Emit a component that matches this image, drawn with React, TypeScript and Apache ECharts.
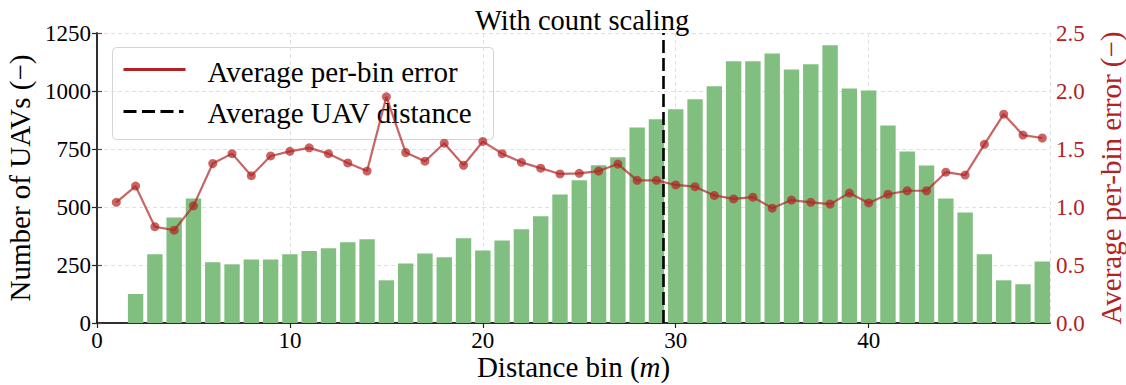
import React, { useEffect, useRef } from "react";
import * as echarts from "echarts";

const bins = [
  1, 2, 3, 4, 5, 6, 7, 8, 9, 10,
  11, 12, 13, 14, 15, 16, 17, 18, 19, 20,
  21, 22, 23, 24, 25, 26, 27, 28, 29, 30,
  31, 32, 33, 34, 35, 36, 37, 38, 39, 40,
  41, 42, 43, 44, 45, 46, 47, 48, 49,
];

const uavCounts = [
  0, 125, 296, 455, 537, 262, 253, 274, 274, 296,
  310, 322, 348, 361, 184, 257, 300, 283, 365, 313,
  356, 404, 460, 554, 615, 680, 714, 843, 878, 921,
  964, 1020, 1128, 1128, 1162, 1093, 1115, 1197, 1011, 1002,
  851, 739, 679, 537, 476, 296, 184, 167, 265,
];

const binErrors = [
  1.04, 1.18, 0.83, 0.8, 1.01, 1.375, 1.46, 1.27, 1.44, 1.48,
  1.51, 1.46, 1.38, 1.31, 1.95, 1.47, 1.395, 1.55, 1.36, 1.565,
  1.46, 1.385, 1.335, 1.285, 1.29, 1.31, 1.37, 1.23, 1.23, 1.19,
  1.175, 1.1, 1.07, 1.085, 0.99, 1.06, 1.04, 1.025, 1.12, 1.035,
  1.11, 1.14, 1.14, 1.3, 1.275, 1.54, 1.8, 1.62, 1.595,
];

const avgDistance = 29.37;
const xTicksMax = 49.4;
const leftTicks = [0, 250, 500, 750, 1000, 1250];
const rightTicks = [0, 0.5, 1.0, 1.5, 2.0, 2.5];

const FONT = "Liberation Serif";
const RED = "#b22222";
const SPINE = { show: true, lineStyle: { color: "#222", width: 1.5 } };

export default function App() {
  const ref = useRef<HTMLDivElement>(null);

  useEffect(() => {
    document.body.style.margin = "0";
    if (!ref.current) return;
    const chart = echarts.init(ref.current, undefined, { renderer: "svg" });

    const barData = bins.map((b, i) => [b, uavCounts[i]]).filter((d) => d[1] > 0);
    const lineData = bins.map((b, i) => [b, binErrors[i]]);

    const gridLine = {
      show: true,
      lineStyle: { color: "#dcdcdc", type: [4, 3] as any, width: 0.9 },
    };

    chart.setOption({
      animation: false,
      backgroundColor: "#ffffff",
      textStyle: { fontFamily: FONT },
      title: {
        text: "With count scaling",
        left: 470,
        top: 1,
        textStyle: { fontFamily: FONT, fontSize: 28.5, fontWeight: "normal", color: "#000" },
      },
      grid: {
        left: 97,
        right: 76,
        top: 33,
        bottom: 62,
        show: false,
        containLabel: false,
        outerBoundsMode: "none",
      },
      xAxis: [
        {
          type: "value",
          min: 0,
          max: xTicksMax,
          interval: 10,
          position: "bottom",
          axisLine: SPINE,
          axisTick: { show: true, length: 5, lineStyle: { color: "#222", width: 1.2 } },
          axisLabel: {
            fontFamily: FONT,
            fontSize: 23,
            lineHeight: 20,
            color: "#000",
            margin: 7,
            showMaxLabel: false,
            formatter: (v: number) => (v % 10 === 0 ? String(v) : ""),
          },
          splitLine: gridLine,
        },
        {
          type: "value",
          min: 0,
          max: xTicksMax,
          position: "top",
          axisLine: SPINE,
          axisTick: { show: false },
          axisLabel: { show: false },
          splitLine: { show: false },
        },
      ],
      yAxis: [
        {
          type: "value",
          min: leftTicks[0],
          max: leftTicks[leftTicks.length - 1],
          interval: 250,
          position: "left",
          name: "Number of UAVs (−)",
          nameLocation: "middle",
          nameGap: 62,
          nameTextStyle: { fontFamily: FONT, fontSize: 29, color: "#000" },
          axisLine: SPINE,
          axisTick: { show: true, length: 5, lineStyle: { color: "#222", width: 1.2 } },
          axisLabel: {
            fontFamily: FONT,
            fontSize: 23,
            color: "#000",
            margin: 6,
            formatter: (v: number) => String(v),
          },
          splitLine: gridLine,
        },
        {
          type: "value",
          min: rightTicks[0],
          max: rightTicks[rightTicks.length - 1],
          interval: 0.5,
          position: "right",
          name: "Average per-bin error (−)",
          nameLocation: "middle",
          nameGap: 46,
          nameRotate: 90,
          nameTextStyle: { fontFamily: FONT, fontSize: 29, color: RED },
          axisLine: SPINE,
          axisTick: { show: true, length: 5, lineStyle: { color: RED, width: 1.2 } },
          axisLabel: {
            fontFamily: FONT,
            fontSize: 23,
            color: RED,
            margin: 6,
            formatter: (v: number) => v.toFixed(1),
          },
          splitLine: { show: false },
        },
      ],
      series: [
        {
          type: "bar",
          name: "Number of UAVs",
          data: barData,
          barWidth: 15.4,
          itemStyle: { color: "#80bf80" },
          xAxisIndex: 0,
          yAxisIndex: 0,
          z: 2,
          markLine: {
            silent: true,
            symbol: "none",
            label: { show: false },
            lineStyle: { color: "#000", type: [13, 5] as any, width: 2.6 },
            data: [{ xAxis: avgDistance }],
            z: 5,
          },
        },
        {
          type: "line",
          name: "Average per-bin error",
          data: lineData,
          xAxisIndex: 0,
          yAxisIndex: 1,
          symbol: "circle",
          symbolSize: 9,
          itemStyle: { color: "rgba(178,34,34,0.7)" },
          lineStyle: { color: "rgba(178,34,34,0.7)", width: 2.2 },
          z: 4,
        },
      ],
      graphic: [
        {
          type: "text",
          x: 573.5,
          y: 367,
          z: 100,
          style: {
            text: "Distance bin ({i|m})",
            fontFamily: FONT,
            fontSize: 29,
            lineHeight: 28,
            fill: "#000",
            align: "center",
            verticalAlign: "middle",
            rich: {
              i: { fontFamily: FONT, fontSize: 29, lineHeight: 28, fontStyle: "italic", fill: "#000" },
            },
          },
        },
        {
          type: "group",
          left: 112,
          top: 47,
          z: 100,
          children: [
            {
              type: "rect",
              shape: { x: 0, y: 0, width: 381, height: 92, r: 4 },
              style: { fill: "rgba(255,255,255,0.8)", stroke: "#d4d4d4", lineWidth: 1 },
            },
            {
              type: "line",
              shape: { x1: 11, y1: 22, x2: 73, y2: 22 },
              style: { stroke: RED, lineWidth: 3 },
            },
            {
              type: "line",
              shape: { x1: 11, y1: 64, x2: 71, y2: 64 },
              style: { stroke: "#000", lineWidth: 3, lineDash: [13, 5.5] },
            },
            {
              type: "text",
              x: 95,
              y: 24,
              style: {
                text: "Average per-bin error",
                fontFamily: FONT,
                fontSize: 29,
                fill: "#000",
                verticalAlign: "middle",
              },
            },
            {
              type: "text",
              x: 95,
              y: 65,
              style: {
                text: "Average UAV distance",
                fontFamily: FONT,
                fontSize: 29,
                fill: "#000",
                verticalAlign: "middle",
              },
            },
          ],
        },
      ],
    });

    return () => chart.dispose();
  }, []);

  return <div ref={ref} style={{ width: 1126, height: 385 }} />;
}
